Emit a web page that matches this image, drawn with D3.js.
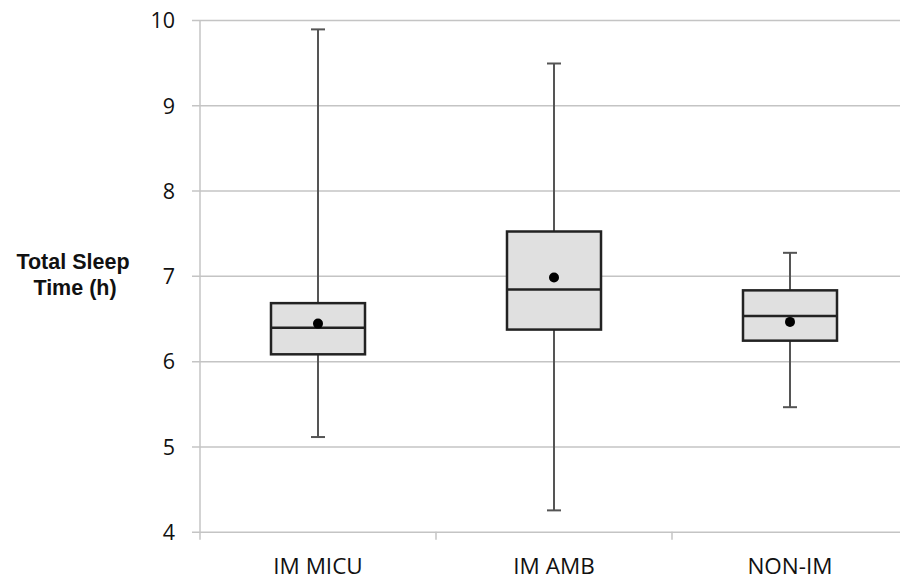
<!DOCTYPE html>
<html>
<head>
<meta charset="utf-8">
<script src="https://cdn.jsdelivr.net/npm/d3@7"></script>
<style>
  body { margin: 0; background: #fff; }
  text { font-family: "Open Sans", sans-serif; fill: #111; }
  text.ytitle { font-family: "Liberation Sans", Arial, sans-serif; font-weight: bold; }
</style>
</head>
<body>
<div id="chart-container"></div>
<script>
// box plot of total sleep time per group
const categories = ["IM MICU", "IM AMB", "NON-IM"];
const whiskerLow = [5.11, 4.25, 5.46];
const q1 = [6.08, 6.37, 6.24];
const median = [6.39, 6.84, 6.53];
const q3 = [6.68, 7.52, 6.83];
const whiskerHigh = [9.89, 9.49, 7.27];
const mean = [6.44, 6.98, 6.46];
const yTicks = [4, 5, 6, 7, 8, 9, 10];

const svgWidth = 900;
const svgHeight = 582;
const plotLeft = 200, plotTop = 20, plotBottom = 531.7;
const bandW = 236;

const svg = d3.select("#chart-container")
    .append("svg")
    .attr("width", svgWidth)
    .attr("height", svgHeight);

const data = categories.map((c, i) => ({
    cat: c, lo: whiskerLow[i], q1: q1[i], med: median[i], q3: q3[i], hi: whiskerHigh[i], mean: mean[i]
}));

const y = d3.scaleLinear().domain([4, 10]).range([plotBottom, plotTop]);
const x = d3.scaleBand().domain(categories).range([plotLeft, plotLeft + bandW * categories.length]).padding(0);

// y axis with gridlines
const yAxis = svg.append("g")
    .attr("transform", `translate(${plotLeft},0)`)
    .call(d3.axisLeft(y).tickValues(yTicks).tickSize(-(svgWidth - plotLeft)).tickPadding(25).tickFormat(d3.format("d")));
yAxis.select(".domain").remove();
yAxis.selectAll(".tick line")
    .attr("x1", -8)
    .attr("stroke", "#c4c4c4")
    .attr("stroke-width", 1.5);
yAxis.selectAll(".tick text")
    .attr("font-size", 21.5)
    .attr("dy", "0.36em")
    .style("fill", "#111");

// vertical axis line
svg.append("line")
    .attr("x1", plotLeft).attr("x2", plotLeft)
    .attr("y1", plotTop).attr("y2", plotBottom + 8)
    .attr("stroke", "#c4c4c4")
    .attr("stroke-width", 1.5);

// x axis category boundary ticks
const bounds = categories.map(c => x(c)).slice(1);
svg.selectAll(".xtick")
    .data(bounds)
    .join("line")
    .attr("x1", d => d).attr("x2", d => d)
    .attr("y1", plotBottom).attr("y2", plotBottom + 8)
    .attr("stroke", "#c4c4c4")
    .attr("stroke-width", 1.5);

svg.selectAll(".xlabel")
    .data(categories)
    .join("text")
    .attr("x", d => x(d) + x.bandwidth() / 2)
    .attr("y", 574)
    .attr("text-anchor", "middle")
    .attr("font-size", 22.5)
    .text(d => d);

// title, two lines
svg.append("text")
    .attr("class", "ytitle")
    .attr("x", 73).attr("y", 269)
    .attr("text-anchor", "middle")
    .attr("font-size", 21.5)
    .text("Total Sleep");
svg.append("text")
    .attr("class", "ytitle")
    .attr("x", 75).attr("y", 295)
    .attr("text-anchor", "middle")
    .attr("font-size", 21.5)
    .text("Time (h)");

// boxes
const boxW = 94;
const g = svg.selectAll(".box")
    .data(data)
    .join("g")
    .attr("transform", d => `translate(${x(d.cat) + x.bandwidth() / 2},0)`);

g.append("line")
    .attr("x1", 0).attr("x2", 0)
    .attr("y1", d => y(d.hi)).attr("y2", d => y(d.lo))
    .attr("stroke", "#555")
    .attr("stroke-width", 2);
g.append("line")
    .attr("x1", -7).attr("x2", 7)
    .attr("y1", d => y(d.hi)).attr("y2", d => y(d.hi))
    .attr("stroke", "#555")
    .attr("stroke-width", 2);
g.append("line")
    .attr("x1", -7).attr("x2", 7)
    .attr("y1", d => y(d.lo)).attr("y2", d => y(d.lo))
    .attr("stroke", "#555")
    .attr("stroke-width", 2);

g.append("rect")
    .attr("x", -boxW / 2)
    .attr("width", boxW)
    .attr("y", d => y(d.q3))
    .attr("height", d => y(d.q1) - y(d.q3))
    .attr("fill", "#e0e0e0")
    .attr("stroke", "#222")
    .attr("stroke-width", 2.5);

g.append("line")
    .attr("x1", -boxW / 2).attr("x2", boxW / 2)
    .attr("y1", d => y(d.med)).attr("y2", d => y(d.med))
    .attr("stroke", "#222")
    .attr("stroke-width", 2.5);

g.append("circle")
    .attr("cx", 0)
    .attr("cy", d => y(d.mean))
    .attr("r", 5)
    .attr("fill", "#000");
</script>
</body>
</html>
